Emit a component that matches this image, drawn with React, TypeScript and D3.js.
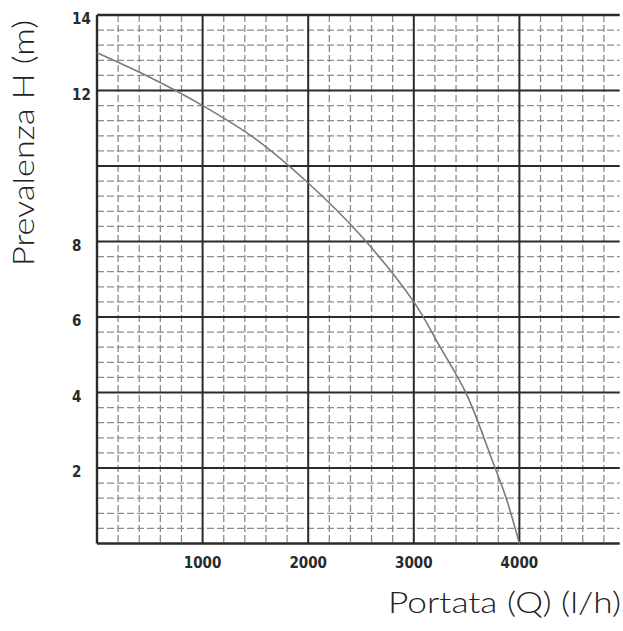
import React from 'react';
import * as d3 from 'd3';

// pump curve: flow (l/h) vs head (m)
const flowQ = [0, 500, 1000, 1500, 2000, 2500, 3000, 3250, 3500, 3750, 3875, 4000];
const headH = [13.0, 12.35, 11.6, 10.72, 9.55, 8.15, 6.4, 5.2, 3.95, 2.15, 1.2, 0];

const qTickValues = [1000, 2000, 3000, 4000];
const qTickLabels = ['1000', '2000', '3000', '4000'];
const hTickValues = [2, 4, 6, 8, 12, 14];
const hTickLabels = ['2', '4', '6', '8', '12', '14'];

const xTitle = 'Portata (Q) (l/h)';
const yTitle = 'Prevalenza H (m)';

const W = 623;
const H = 631;

const App: React.FC = () => {
    const x = d3.scaleLinear().domain([0, 5000]).range([97, 625]);
    const y = d3.scaleLinear().domain([0, 14]).range([543.5, 15]);
    const xEnd = x(4950);

    const majorX = d3.range(1000, 5000, 1000);
    const majorY = d3.range(2, 14, 2);
    const minorX = d3.range(200, 4900, 200).filter(v => v % 1000 !== 0);
    const minorY = d3.range(1, 35).map(i => +(i * 0.4).toFixed(1)).filter(v => Math.abs(v / 2 - Math.round(v / 2)) > 0.01);

    const line = d3.line<number>()
        .x((_, i) => x(flowQ[i]))
        .y(d => y(d))
        .curve(d3.curveCatmullRom.alpha(0.5));

    const gridDark = '#2b2b2b';
    const gridLight = '#8c8c8c';

    return (
        <svg width={W} height={H} style={{ position: 'absolute', left: 0, top: 0, background: '#fff' }}>
            {/* minor dashed grid */}
            <g stroke={gridLight} strokeWidth={1.3} strokeDasharray="7,3">
                {minorX.map(v => (
                    <line key={'mx' + v} x1={x(v)} x2={x(v)} y1={y(14)} y2={y(0)} />
                ))}
                {minorY.map(v => (
                    <line key={'my' + v} x1={x(0)} x2={xEnd} y1={y(v)} y2={y(v)} />
                ))}
            </g>
            {/* major grid */}
            <g stroke={gridDark} strokeWidth={2}>
                {majorX.map(v => (
                    <line key={'Mx' + v} x1={x(v)} x2={x(v)} y1={y(14)} y2={y(0)} />
                ))}
                {majorY.map(v => (
                    <line key={'My' + v} x1={x(0)} x2={xEnd} y1={y(v)} y2={y(v)} />
                ))}
                <line x1={x(0)} x2={xEnd} y1={y(14)} y2={y(14)} strokeWidth={2.4} />
                <line x1={x(0)} x2={xEnd} y1={y(0)} y2={y(0)} strokeWidth={2.6} />
                <line x1={x(0)} x2={x(0)} y1={y(14)} y2={y(0)} strokeWidth={2.4} />
            </g>
            {/* curve */}
            <path d={line(headH) || ''} fill="none" stroke="#7a7a7a" strokeWidth={1.6} />
            {/* tick labels */}
            <g fontFamily="'DejaVu Sans Condensed', 'DejaVu Sans'" fontWeight="bold" fontSize={15} fill="#2a2a2a">
                {qTickValues.map((v, i) => (
                    <text key={'qt' + v} x={x(v)} y={568} textAnchor="middle">{qTickLabels[i]}</text>
                ))}
                {hTickValues.map((v, i) => (
                    <text key={'ht' + v} x={72} y={y(v) + 9}>{hTickLabels[i]}</text>
                ))}
            </g>
            {/* axis titles */}
            <text x={388} y={613} fontFamily="Lato" fontWeight={300} fontSize={30} fill="#222" textLength={233} lengthAdjust="spacingAndGlyphs">{xTitle}</text>
            <text transform={`translate(34,266) rotate(-90)`} fontFamily="Lato" fontWeight={300} fontSize={30} fill="#222" textLength={246} lengthAdjust="spacingAndGlyphs">{yTitle}</text>
        </svg>
    );
};

export default App;
